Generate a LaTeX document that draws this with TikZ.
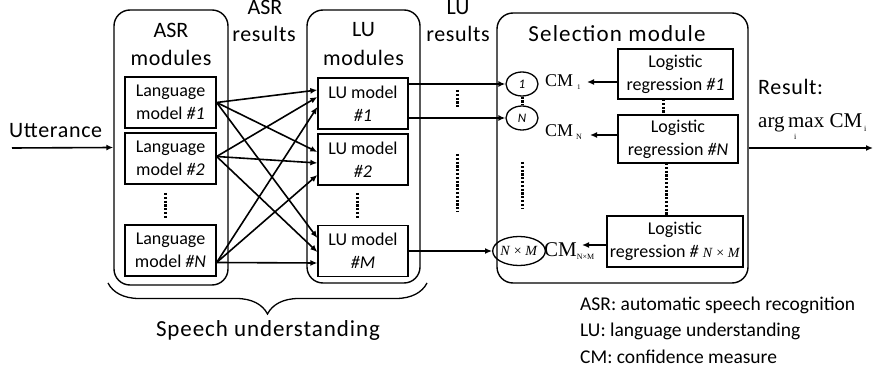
\documentclass[tikz,border=0pt]{standalone}
\usepackage{fontspec}
\setmainfont{Carlito}
\newfontfamily\tms{Liberation Serif}
\usetikzlibrary{arrows.meta,decorations.pathreplacing,shapes.geometric}
\begin{document}
\begin{tikzpicture}[x=1pt,y=-1pt,
 big/.style={draw, line width=1.4pt, rounded corners=16pt, inner sep=0pt},
 sbox/.style={draw, line width=1.3pt, inner sep=0pt, align=center, font=\fontsize{18}{23}\selectfont},
 conn/.style={line width=1.6pt, -{Latex[length=7pt,width=6pt]}},
 dots/.style={line width=3pt, dash pattern=on 2.2pt off 1.6pt},
 lbl/.style={font=\fontsize{22}{28}\selectfont, inner sep=0pt},
 ell/.style={draw, ellipse, line width=1.3pt, inner sep=0pt},
 cml/.style={inner sep=0pt, anchor=base west},
]
\useasboundingbox (0,0) rectangle (873,371);

% big modules
\node[big, minimum width=114pt, minimum height=275pt] (asr) at (171,147.5) {};
\node[big, minimum width=113pt, minimum height=273pt] (lu) at (363.5,146.5) {};
\node[big, minimum width=251pt, minimum height=270pt] (sel) at (622.5,148) {};

% headings
\node[lbl, anchor=base] (asrh1) at (171,38) {ASR};
\node[lbl, anchor=base] (asrh2) at (171,66) {\addfontfeature{LetterSpace=3}modules};
\node[lbl, anchor=base] (luh1) at (363.5,37) {LU};
\node[lbl, anchor=base] (luh2) at (363.5,66) {\addfontfeature{LetterSpace=3}modules};
\node[lbl, anchor=base, font=\fontsize{23}{28}\selectfont] (selh) at (617,42) {\addfontfeature{LetterSpace=5}Selection module};
\node[lbl, anchor=base] (asrr1) at (265,15) {ASR};
\node[lbl, anchor=base] (asrr2) at (264,42) {\addfontfeature{LetterSpace=3}results};
\node[lbl, anchor=base] (lur1) at (458,15) {LU};
\node[lbl, anchor=base] (lur2) at (458,42) {\addfontfeature{LetterSpace=3}results};
\node[lbl, anchor=base west] (utt) at (9,138) {\addfontfeature{LetterSpace=3}Utterance};
\node[lbl, anchor=base west] (res) at (758,95) {\addfontfeature{LetterSpace=3}Result:};
\node[cml] (argmax) at (758,128) {\tms\fontsize{21}{21}\selectfont arg\,\rlap{\raisebox{-12pt}{\kern6pt\fontsize{8}{8}\selectfont i}}max CM\raisebox{-4pt}{\kern2pt\fontsize{8}{8}\selectfont i}};

% ASR language models
\node[sbox, minimum width=91pt, minimum height=51pt] (lm1) at (170.5,102.5) {Language\\model \textit{\#1}};
\node[sbox, minimum width=91pt, minimum height=51pt] (lm2) at (170.5,158.5) {Language\\model \textit{\#2}};
\node[sbox, minimum width=91pt, minimum height=51pt] (lmN) at (170.5,250.5) {Language\\model \textit{\#N}};

% LU models
\node[sbox, minimum width=90pt, minimum height=51pt] (lu1) at (363,103.5) {LU model\\\textit{\#1}};
\node[sbox, minimum width=90pt, minimum height=51pt] (lu2) at (363,159.5) {LU model\\\textit{\#2}};
\node[sbox, minimum width=90pt, minimum height=51pt] (luM) at (363,251) {LU model\\\textit{\#M}};

% selection internals
\node[ell, minimum width=32pt, minimum height=24pt] (e1) at (522,84) {\fontsize{13}{13}\selectfont\textit{1}};
\node[ell, minimum width=32pt, minimum height=24pt] (eN) at (522,118) {\fontsize{13}{13}\selectfont\textit{N}};
\node[ell, minimum width=44pt, minimum height=29pt] (eNM) at (519,251) {\tms\fontsize{14}{14}\selectfont\textit{N} × \textit{M}};

\node[sbox, minimum width=115pt, minimum height=50pt] (lr1) at (675.5,74) {Logistic\\regression \textit{\#1}};
\node[sbox, minimum width=120pt, minimum height=48pt] (lrN) at (678,139) {Logistic\\regression \textit{\#N}};
\node[sbox, minimum width=136pt, minimum height=51pt] (lrNM) at (675,241.5) {Logistic\\regression \textit{\#} {\tms\fontsize{14}{14}\selectfont\textit{N} × \textit{M}}};

\node[cml] (cm1) at (545,87) {\tms\fontsize{18}{18}\selectfont CM\kern4pt\raisebox{-3pt}{\fontsize{7}{7}\selectfont 1}};
\node[cml] (cmN) at (545,137) {\tms\fontsize{18}{18}\selectfont CM\kern3pt\raisebox{-3pt}{\fontsize{8}{8}\selectfont N}};
\node[cml] (cmNM) at (544,257) {\tms\fontsize{21}{21}\selectfont CM\raisebox{-3pt}{\fontsize{8}{8}\selectfont N×M}};

\coordinate (t1) at (587,82);
\coordinate (tN) at (590,135);
\coordinate (tNM) at (582,245);
\coordinate (uttstart) at (12,148);
\coordinate (resend) at (873,148);

% connectors
\draw[conn] (uttstart) -- (asr.west);
\coordinate (s1) at (lm1.east);
\coordinate (s2) at ([yshift=2pt]lm2.east);
\coordinate (sN) at ([yshift=-12pt]lmN.east);
\draw[conn] (s1) -- ([yshift=13.5pt]lu1.west);
\draw[conn] (s1) -- ([yshift=7.5pt]lu2.west);
\draw[conn] (s1) -- ([yshift=13pt]luM.west);
\draw[conn] (s2) -- ([yshift=6.5pt]lu1.west);
\draw[conn] (s2) -- ([yshift=-3.5pt]lu2.west);
\draw[conn] (s2) -- ([yshift=-1pt]luM.west);
\draw[conn] (sN) -- ([yshift=-3.5pt]lu1.west);
\draw[conn] (sN) -- ([yshift=-15.5pt]lu2.west);
\draw[conn] (sN) -- ([yshift=-12pt]luM.west);

\draw[conn] ([yshift=19.5pt]lu1.east) -- (e1.west);
\draw[conn] ([yshift=-14.5pt]lu1.east) -- (eN.west);
\draw[conn] (luM.east) -- (eNM.west);

\draw[conn] ([yshift=-8pt]lr1.west) -- (t1);
\draw[conn] ([yshift=4pt]lrN.west) -- (tN);
\draw[conn] ([yshift=-3.5pt]lrNM.west) -- (tNM);

\draw[conn] (sel.east) -- (resend);

% dotted ellipses
\draw[dots] (e1.south) -- (eN.north);
\draw[dots] (663,99) -- (663,115);
\draw[dots] (666,163) -- (666,216);
\draw[dots] (522,162) -- (522,208);
\draw[dots] (457,90) -- (457,107);
\draw[dots] (457,154) -- (457,212);
\draw[dots] (357,193) -- (357,218);
\draw[dots] (165,193) -- (165,218);

% brace
\draw[line width=1.3pt, decorate, decoration={brace, mirror, amplitude=31pt}] (108,283) -- (427,283);
\node[lbl, anchor=base, font=\fontsize{23}{28}\selectfont] (speech) at (268,337) {\addfontfeature{LetterSpace=4}Speech understanding};

% legend
\node[inner sep=0pt, anchor=base west, align=left, font=\fontsize{19.5}{26.5}\selectfont] (legend) at (580,363) {ASR: automatic speech recognition\\LU: language understanding\\CM: confidence measure};
\end{tikzpicture}
\end{document}
